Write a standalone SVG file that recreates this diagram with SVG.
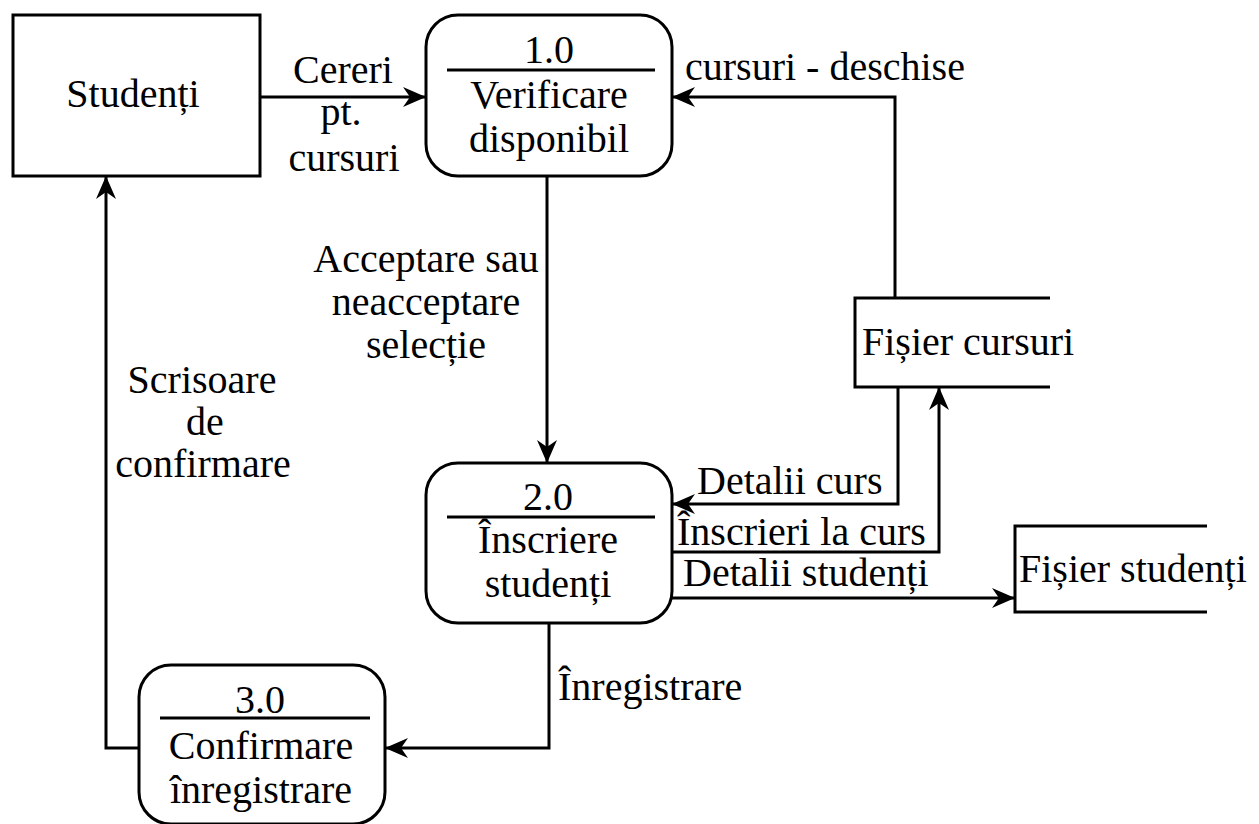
<svg xmlns="http://www.w3.org/2000/svg" width="1259" height="824" viewBox="0 0 1259 824">
  <style>
    text { font-size: 40px; fill: #000; }
    .mid { text-anchor: middle; }
    .box { fill: #fff; stroke: #000; stroke-width: 3; }
    .sep { stroke: #000; stroke-width: 3; }
    .flow { fill: none; stroke: #000; stroke-width: 3; }
    .arrow { marker-end: url(#head); }
  </style>
  <defs>
    <marker id="head" markerUnits="userSpaceOnUse" viewBox="-24 -11 26 22" refX="0" refY="0" markerWidth="26" markerHeight="22" orient="auto">
      <path d="M0,0 L-23,-10 L-16,0 L-23,10 Z" fill="#000"/>
    </marker>
  </defs>

  <rect width="1259" height="824" fill="#fff"/>

  <g font-family="'Liberation Serif', 'DejaVu Serif', 'Times New Roman', serif">
  <!-- external entity -->
  <g id="studenti">
    <rect class="box" x="13" y="15" width="247" height="161"/>
    <text class="mid" x="133" y="107">Studenți</text>
  </g>

  <!-- processes -->
  <g id="proc1">
    <rect class="box" x="426" y="15" width="246" height="161" rx="32" ry="32"/>
    <line class="sep" x1="447" y1="70" x2="655" y2="70"/>
    <text class="mid" x="549" y="63">1.0</text>
    <text class="mid" x="549" y="108">Verificare</text>
    <text class="mid" x="549" y="152">disponibil</text>
  </g>

  <g id="proc2">
    <rect class="box" x="426" y="463" width="246" height="160" rx="32" ry="32"/>
    <line class="sep" x1="447" y1="517" x2="655" y2="517"/>
    <text class="mid" x="548" y="510">2.0</text>
    <text class="mid" x="548" y="553">Înscriere</text>
    <text class="mid" x="548" y="597">studenți</text>
  </g>

  <g id="proc3">
    <rect class="box" x="139" y="665" width="246" height="159" rx="32" ry="32"/>
    <line class="sep" x1="160" y1="718" x2="370" y2="718"/>
    <text class="mid" x="260" y="713">3.0</text>
    <text class="mid" x="261" y="759">Confirmare</text>
    <text class="mid" x="261" y="803">înregistrare</text>
  </g>

  <!-- data stores -->
  <g id="fisier-cursuri">
    <path class="flow" d="M1050,298 H855 V387 H1050"/>
    <text x="862" y="355">Fișier cursuri</text>
  </g>

  <g id="fisier-studenti">
    <path class="flow" d="M1207,526 H1015 V612 H1207"/>
    <text x="1019" y="582">Fișier studenți</text>
  </g>

  <!-- data flows -->
  <g id="connectors">
    <path class="flow arrow" d="M260,97 H426"/>
    <path class="flow arrow" d="M895,298 V97 H672"/>
    <path class="flow arrow" d="M547,176 V463"/>
    <path class="flow arrow" d="M898,387 V504 H672"/>
    <path class="flow arrow" d="M672,552 H939 V387"/>
    <path class="flow arrow" d="M672,598 H1015"/>
    <path class="flow arrow" d="M549,623 V748 H385"/>
    <path class="flow arrow" d="M139,748 H106 V176"/>
  </g>

  <!-- flow labels -->
  <g id="labels">
    <text class="mid" x="343" y="83">Cereri</text>
    <text class="mid" x="341" y="125">pt.</text>
    <text class="mid" x="344" y="171">cursuri</text>
    <text x="685" y="80">cursuri - deschise</text>
    <text class="mid" x="426" y="272">Acceptare sau</text>
    <text class="mid" x="426" y="315">neacceptare</text>
    <text class="mid" x="426" y="358">selecție</text>
    <text x="697" y="494">Detalii curs</text>
    <text x="677" y="545">Înscrieri la curs</text>
    <text x="683" y="586">Detalii studenți</text>
    <text x="558" y="700">Înregistrare</text>
    <text class="mid" x="202" y="393">Scrisoare</text>
    <text class="mid" x="205" y="435">de</text>
    <text class="mid" x="203" y="477">confirmare</text>
  </g>
  </g>
</svg>
